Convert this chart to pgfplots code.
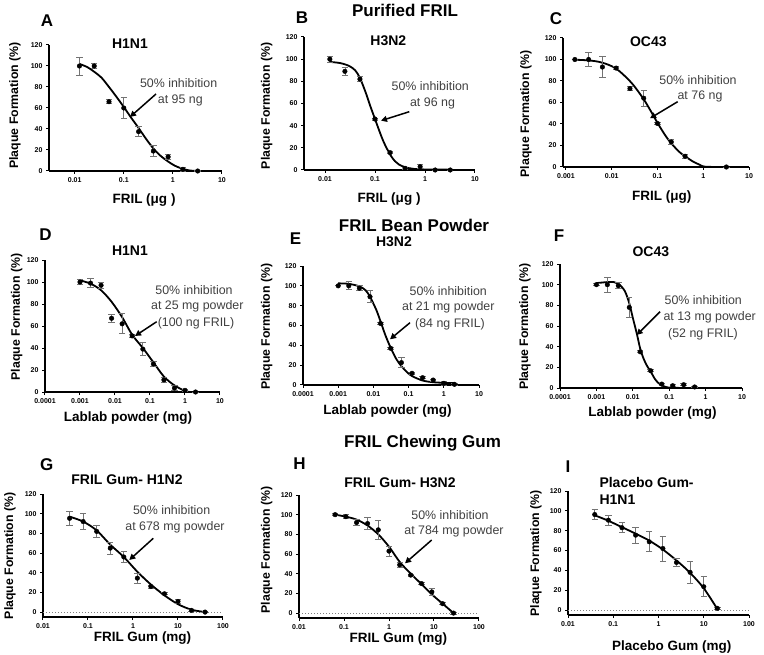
\documentclass[border=0pt]{standalone}
\usepackage{fontspec}
\setmainfont{Liberation Sans}
\usepackage{pgfplots}
\pgfplotsset{compat=1.18}
\usetikzlibrary{arrows.meta}

\newcommand{\ylab}{\fontsize{12.3}{14}\selectfont\bfseries}
\newcommand{\xlab}{\fontsize{13.5}{15}\selectfont\bfseries}
\newcommand{\ttl}{\fontsize{14}{16}\selectfont\bfseries}
\newcommand{\sectfont}{\fontsize{17}{19}\selectfont\bfseries}
\newcommand{\letr}{\fontsize{17}{19}\selectfont\bfseries}
\newcommand{\ann}{\fontsize{12.4}{14}\selectfont\color{black!75}}

\pgfplotsset{
  gpaxis/.style={scale only axis, axis x line*=bottom, axis y line*=left,
    axis line style={line width=1.1pt},
    tick style={line width=1pt, black},
    tick align=outside, major tick length=3pt, xminorticks=false,
    ymin=0, ymax=120, ytick={0,20,...,120},
    tick label style={font=\fontsize{7}{8}\selectfont\bfseries},
    clip=false, anchor=south west},
  pts/.style={only marks, mark=*, mark size=2.3pt, black,
    error bars/.cd, y dir=both, y explicit,
    error bar style={black!55, line width=0.8pt},
    error mark options={rotate=90, black!55, mark size=3.2pt, line width=0.8pt}},
  fitline/.style={black, line width=1.8pt, smooth, no marks},
  zline/.style={black!50, dotted, line width=1pt, no marks},
}

\begin{document}
\begin{tikzpicture}
\useasboundingbox (0,0) rectangle (764pt,-655pt);

% ---------- A ----------
\begin{axis}[xmode=log, gpaxis, /pgf/number format/assume math mode=true, at={(49pt,-171pt)}, width=173pt, height=126pt,
  xmin=0.003, xmax=10, xtick={0.01,0.1,1,10}, xticklabels={0.01,0.1,1,10}]
\addplot[fitline] coordinates {(0.0125,102) (0.018,99) (0.025,94.5) (0.035,89) (0.05,80) (0.07,71) (0.1,61) (0.14,51) (0.2,41) (0.28,31) (0.4,21.5) (0.56,14.5) (0.8,9) (1.1,5) (1.6,2) (2.2,0.5) (3.2,0)};
\addplot[pts] coordinates {(0.0125,100) +- (0,8.5) (0.025,100) +- (0,2) (0.05,66) +- (0,2) (0.1,60) +- (0,10) (0.2,37.5) +- (0,5) (0.4,19) +- (0,5) (0.8,13.5) +- (0,2) (1.6,1.6) +- (0,2) (3.2,0) +- (0,0.5)};
\end{axis}

% ---------- B ----------
\begin{axis}[xmode=log, gpaxis, /pgf/number format/assume math mode=true, at={(304pt,-170pt)}, width=171pt, height=133pt,
  xmin=0.0038, xmax=10, xtick={0.01,0.1,1,10}, xticklabels={0.01,0.1,1,10}]
\addplot[fitline] coordinates {(0.0125,97.5) (0.02,96.5) (0.03,94) (0.04,90) (0.05,83) (0.065,70) (0.08,58) (0.1,46) (0.125,34) (0.15,25) (0.2,14) (0.25,8) (0.3,5) (0.4,2.5) (0.6,1) (1,0.5) (3.2,0.3)};
\addplot[pts] coordinates {(0.0125,100) +- (0,2.5) (0.025,89) +- (0,4) (0.05,82) +- (0,2) (0.1,46) +- (0,1) (0.2,15.7) +- (0,1) (0.4,1.5) +- (0,1) (0.8,3) +- (0,2) (1.6,0) +- (0,0) (3.2,0) +- (0,0)};
\end{axis}

% ---------- C ----------
\begin{axis}[xmode=log, gpaxis, /pgf/number format/assume math mode=true, at={(563pt,-167pt)}, width=186pt, height=129pt,
  xmin=0.00086, xmax=10, xtick={0.001,0.01,0.1,1,10}, xticklabels={0.001,0.01,0.1,1,10}]
\addplot[fitline] coordinates {(0.0016,99.8) (0.003,99.2) (0.005,98) (0.008,95.5) (0.0125,91.5) (0.02,84) (0.03,76) (0.05,63) (0.076,50) (0.1,41) (0.15,29) (0.2,22) (0.3,14) (0.4,10) (0.6,5) (0.8,2.5) (1.1,0.3) (3.2,0)};
\addplot[pts] coordinates {(0.0015625,100) +- (0,0) (0.003125,100) +- (0,6.5) (0.00625,93) +- (0,10) (0.0125,92) +- (0,1.5) (0.025,73) +- (0,2) (0.05,64) +- (0,7.5) (0.1,40.5) +- (0,1) (0.2,23.3) +- (0,2.5) (0.4,10) +- (0,2) (3.2,0) +- (0,0)};
\end{axis}

% ---------- D ----------
\begin{axis}[xmode=log, gpaxis, /pgf/number format/assume math mode=true, at={(45pt,-392pt)}, width=175pt, height=132pt,
  xmin=0.0001, xmax=10, xtick={0.0001,0.001,0.01,0.1,1,10}, xticklabels={0.0001,0.001,0.01,0.1,1,10}]
\addplot[fitline] coordinates {(0.001,101.5) (0.002,98.5) (0.004,92.5) (0.008,82) (0.016,68) (0.031,52) (0.0625,40) (0.125,27) (0.25,14) (0.5,6) (1,1) (1.4,0)};
\addplot[pts] coordinates {(0.001,100) +- (0,2.5) (0.002,99) +- (0,4) (0.004,97) +- (0,2.5) (0.008,67) +- (0,3.5) (0.016,62) +- (0,9) (0.031,51) +- (0,1) (0.0625,39) +- (0,6) (0.125,25.5) +- (0,2) (0.25,11) +- (0,2) (0.5,3.6) +- (0,2.5) (1,1.5) +- (0,1) (2,0) +- (0,0)};
\end{axis}

% ---------- E ----------
\begin{axis}[xmode=log, gpaxis, /pgf/number format/assume math mode=true, at={(303pt,-385pt)}, width=176pt, height=119pt,
  xmin=0.0001, xmax=10, xtick={0.0001,0.001,0.01,0.1,1,10}, xticklabels={0.0001,0.001,0.01,0.1,1,10}]
\addplot[fitline] coordinates {(0.001,102.5) (0.002,102) (0.004,99.5) (0.006,95.5) (0.008,89) (0.012,76) (0.016,64) (0.022,50) (0.031,37.5) (0.045,26) (0.0625,19) (0.09,13) (0.125,9) (0.25,4.5) (0.5,2.8) (1,2.2) (2,2)};
\addplot[pts] coordinates {(0.001,100) +- (0,0) (0.002,100) +- (0,4) (0.004,97.6) +- (0,2.5) (0.008,89) +- (0,6) (0.016,62) +- (0,1) (0.031,37) +- (0,1) (0.0625,22.6) +- (0,5) (0.125,11.8) +- (0,1) (0.25,7.4) +- (0,1) (0.5,5) +- (0,1) (1,1.7) +- (0,2) (2,0.7) +- (0,1)};
\end{axis}

% ---------- F ----------
\begin{axis}[xmode=log, gpaxis, /pgf/number format/assume math mode=true, at={(560pt,-388pt)}, width=182pt, height=124pt,
  xmin=0.0001, xmax=10, xtick={0.0001,0.001,0.01,0.1,1,10}, xticklabels={0.0001,0.001,0.01,0.1,1,10}]
\addplot[fitline] coordinates {(0.001,101.5) (0.002,102.5) (0.003,102.5) (0.004,101) (0.006,94) (0.008,82) (0.01,68) (0.013,52) (0.016,38) (0.02,28) (0.025,21) (0.031,16) (0.04,9) (0.05,5) (0.0625,2.5) (0.08,1) (0.12,0.2) (0.5,0)};
\addplot[pts] coordinates {(0.001,100) +- (0,1) (0.002,100) +- (0,7) (0.004,99) +- (0,3) (0.008,78) +- (0,10) (0.016,35) +- (0,1) (0.031,16.7) +- (0,1) (0.0625,3.8) +- (0,1) (0.125,2.2) +- (0,1) (0.25,3.2) +- (0,1) (0.5,1) +- (0,0.5)};
\end{axis}

% ---------- G ----------
\begin{axis}[xmode=log, gpaxis, /pgf/number format/assume math mode=true, at={(43pt,-617pt)}, width=180pt, height=123pt, ymin=-5,
  xmin=0.01, xmax=100, xtick={0.01,0.1,1,10,100}, xticklabels={0.01,0.1,1,10,100}]
\addplot[zline] coordinates {(0.01,0) (100,0)};
\addplot[fitline] coordinates {(0.039,97) (0.078,92) (0.156,83) (0.3125,68.5) (0.625,56) (1.25,41) (2.5,28) (5,17) (10,8) (20,2.4) (40,0)};
\addplot[pts] coordinates {(0.039,95.3) +- (0,7) (0.078,92) +- (0,8) (0.156,82) +- (0,6) (0.3125,65) +- (0,6) (0.625,56) +- (0,6) (1.25,34.5) +- (0,5) (2.5,26) +- (0,1.5) (5,18.6) +- (0,1) (10,10.8) +- (0,2) (20,1.7) +- (0,1) (40,0) +- (0,0.5)};
\end{axis}

% ---------- H ----------
\begin{axis}[xmode=log, gpaxis, /pgf/number format/assume math mode=true, at={(299pt,-618pt)}, width=180pt, height=123pt, ymin=-5,
  xmin=0.01, xmax=100, xtick={0.01,0.1,1,10,100}, xticklabels={0.01,0.1,1,10,100}]
\addplot[zline] coordinates {(0.01,0) (100,0)};
\addplot[fitline] coordinates {(0.0635,100) (0.11,98) (0.19,95) (0.334,89) (0.578,80) (1.0,67.5) (1.73,52) (3.04,40) (5.26,29.5) (8.95,19) (15.5,9.6) (27.2,0)};
\addplot[pts] coordinates {(0.0635,100) +- (0,1) (0.11,98) +- (0,2) (0.19,92) +- (0,3) (0.334,91) +- (0,6) (0.578,84.6) +- (0,10) (1.0,63) +- (0,5) (1.73,49) +- (0,3) (3.04,38.6) +- (0,1) (5.26,30) +- (0,1) (8.95,21.5) +- (0,4) (15.5,9.6) +- (0,1) (27.2,0) +- (0,1)};
\end{axis}

% ---------- I ----------
\begin{axis}[xmode=log, gpaxis, /pgf/number format/assume math mode=true, at={(568pt,-615pt)}, width=181pt, height=124pt, ymin=-5,
  xmin=0.01, xmax=100, xtick={0.01,0.1,1,10,100}, xticklabels={0.01,0.1,1,10,100}]
\addplot[zline] coordinates {(0.01,0) (100,0)};
\addplot[fitline] coordinates {(0.039,95.5) (0.078,90) (0.156,83.5) (0.3125,77) (0.625,70) (1.25,61) (2.5,50) (5,37.5) (10,22) (20,1)};
\addplot[pts] coordinates {(0.039,96.3) +- (0,5) (0.078,90.6) +- (0,5) (0.156,83) +- (0,5) (0.3125,75.5) +- (0,8) (0.625,68.8) +- (0,10) (1.25,62) +- (0,12.5) (2.5,48) +- (0,4) (5,38) +- (0,11) (10,23.5) +- (0,10) (20,1.7) +- (0,1)};
\end{axis}

% ---------- text and annotations ----------
\begin{scope}[x=1pt,y=-1pt]
\node[font=\sectfont] at (405,10) {Purified FRIL};
\node[font=\sectfont] at (414,225) {FRIL Bean Powder};
\node[font=\sectfont] at (422.5,443) {FRIL Chewing Gum};
\node[font=\letr] at (47,21) {A};
\node[font=\letr] at (302,18) {B};
\node[font=\letr] at (556,19) {C};
\node[font=\letr] at (45.5,235) {D};
\node[font=\letr] at (295.5,239) {E};
\node[font=\letr] at (559,236) {F};
\node[font=\letr] at (46.7,465) {G};
\node[font=\letr] at (299.5,464) {H};
\node[font=\letr] at (568,467) {I};
\node[font=\ttl] at (130,43.3) {H1N1};
\node[font=\ttl] at (388.3,41) {H3N2};
\node[font=\ttl] at (648.3,41.7) {OC43};
\node[font=\ttl] at (130,250.7) {H1N1};
\node[font=\ttl] at (394,241.7) {H3N2};
\node[font=\ttl] at (650.8,251.7) {OC43};
\node[font=\ttl] at (127,480) {FRIL Gum- H1N2};
\node[font=\ttl] at (400,482.7) {FRIL Gum- H3N2};
\node[font=\ttl, anchor=west, inner sep=0pt] at (599.3,482.7) {Placebo Gum-};
\node[font=\ttl, anchor=west, inner sep=0pt] at (599.3,499.3) {H1N1};
\node[font=\ylab, rotate=90] at (15,105.5) {Plaque Formation (\%)};
\node[font=\ylab, rotate=90] at (266.7,105.8) {Plaque Formation (\%)};
\node[font=\ylab, rotate=90] at (526,114) {Plaque Formation (\%)};
\node[font=\ylab, rotate=90] at (16.7,317) {Plaque Formation (\%)};
\node[font=\ylab, rotate=90] at (266.7,326.7) {Plaque Formation (\%)};
\node[font=\ylab, rotate=90] at (525,326.7) {Plaque Formation (\%)};
\node[font=\ylab, rotate=90] at (10,555.8) {Plaque Formation (\%)};
\node[font=\ylab, rotate=90] at (266.7,550) {Plaque Formation (\%)};
\node[font=\ylab, rotate=90] at (536,553.3) {Plaque Formation (\%)};
\node[font=\xlab] at (144,200) {FRIL (μg )};
\node[font=\xlab] at (389,199.3) {FRIL (μg )};
\node[font=\xlab] at (661.7,196.7) {FRIL (μg)};
\node[font=\xlab] at (128,418) {Lablab powder (mg)};
\node[font=\xlab] at (387.5,410.7) {Lablab powder (mg)};
\node[font=\xlab] at (652.5,413) {Lablab powder (mg)};
\node[font=\xlab] at (142.5,638.3) {FRIL Gum (mg)};
\node[font=\xlab] at (398.3,639.3) {FRIL Gum (mg)};
\node[font=\xlab] at (671.7,646.7) {Placebo Gum (mg)};
\tikzset{arr/.style={-{Triangle[length=6pt,width=6pt]}, line width=1.5pt, black}}
\node[font=\ann] at (178.7,83.3) {50\% inhibition};
\node[font=\ann] at (180.3,100) {at 95 ng};
\draw[arr] (156,94) -- (130,117);
\node[font=\ann] at (430.3,86) {50\% inhibition};
\node[font=\ann] at (432.5,103.3) {at 96 ng};
\draw[arr] (409.3,111.7) -- (381,120.7);
\node[font=\ann] at (698,80) {50\% inhibition};
\node[font=\ann] at (700,96.7) {at 76 ng};
\draw[arr] (677.7,101.7) -- (650,118.3);
\node[font=\ann] at (194,290) {50\% inhibition};
\node[font=\ann] at (197.3,306.7) {at 25 mg powder};
\node[font=\ann] at (196,323.3) {(100 ng FRIL)};
\draw[arr] (156.7,321.7) -- (135,336);
\node[font=\ann] at (448.3,290.7) {50\% inhibition};
\node[font=\ann] at (448.3,307.3) {at 21 mg powder};
\node[font=\ann] at (450,324) {(84 ng FRIL)};
\draw[arr] (410,322.7) -- (390,339.3);
\node[font=\ann] at (703.3,300) {50\% inhibition};
\node[font=\ann] at (709.7,317.3) {at 13 mg powder};
\node[font=\ann] at (703,334) {(52 ng FRIL)};
\draw[arr] (660,311.7) -- (636.7,335);
\node[font=\ann] at (171.7,510) {50\% inhibition};
\node[font=\ann] at (175,527.3) {at 678 mg powder};
\draw[arr] (153.3,538.3) -- (129.3,560);
\node[font=\ann] at (450,515) {50\% inhibition};
\node[font=\ann] at (454,531.7) {at 784 mg powder};
\draw[arr] (431.7,540) -- (405,563.3);
\end{scope}
\end{tikzpicture}
\end{document}
